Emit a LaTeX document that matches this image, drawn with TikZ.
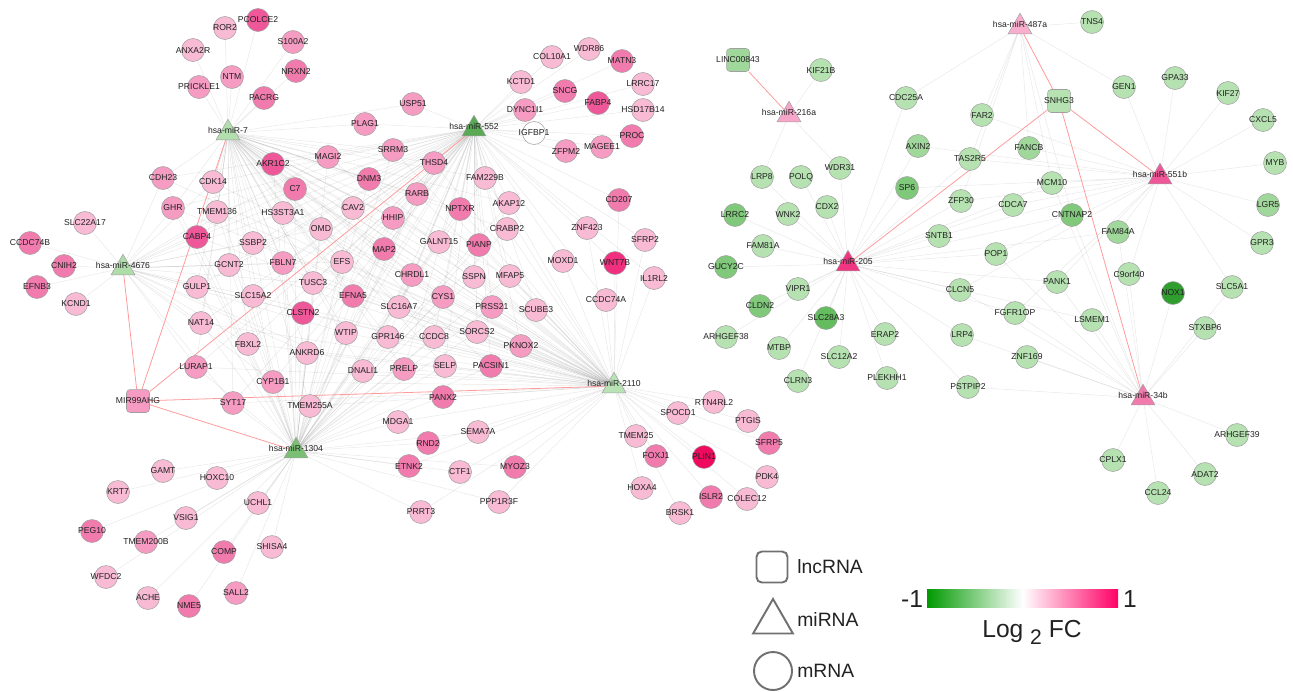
\documentclass[tikz,border=0pt]{standalone}
\usepackage{fontspec}
\setmainfont{Liberation Sans}
\usepackage{xcolor}
\usepackage{tikz}
\usetikzlibrary{shapes.geometric, backgrounds}
\definecolor{C_UP1}{HTML}{F9BAD4}
\definecolor{C_UP2}{HTML}{F69BC2}
\definecolor{C_UP3}{HTML}{F27BAE}
\definecolor{C_UP4}{HTML}{EE5898}
\definecolor{C_UP5}{HTML}{F0307F}
\definecolor{C_UP6}{HTML}{EE0A5F}
\definecolor{C_DN1}{HTML}{B6E2B1}
\definecolor{C_DN2}{HTML}{A0D79A}
\definecolor{C_DN3}{HTML}{80C97A}
\definecolor{C_DN4}{HTML}{64BC5E}
\definecolor{C_DN5}{HTML}{2F9E2F}
\definecolor{C_RIM} {HTML}{A0A0A0}
\definecolor{C_TXT} {HTML}{222222}
\definecolor{C_RED} {HTML}{FF9A9A}
\definecolor{C_KEY} {HTML}{707070}
\definecolor{C_LO}  {HTML}{009A00}
\definecolor{C_HI}  {HTML}{FF0066}
\tikzset{
  %% -- mRNA (circle) --
  NW/gene/.style={
    circle, draw=C_RIM, line width=0.3pt,
    minimum size=0.46cm, inner sep=0pt,
    font=\fontsize{4.9}{5.5}\selectfont
  },
  %% -- miRNA (triangle) --
  NW/mir/.style={
    regular polygon, regular polygon sides=3, draw=C_RIM, line width=0.3pt,
    minimum size=0.55cm, inner sep=0pt
  },
  %% -- lncRNA (rounded square) --
  NW/lnc/.style={
    rectangle, rounded corners=2pt, draw=C_RIM, line width=0.3pt,
    minimum size=0.46cm, inner sep=0pt,
    font=\fontsize{4.9}{5.5}\selectfont
  },
  %% -- text on a node --
  NW/lbl/.style={font=\fontsize{4.9}{5.5}\selectfont, inner sep=0pt},
  %% -- miRNA-mRNA link --
  NW/edge/.style={draw=gray, draw opacity=0.17, line width=0.3pt},
  %% -- lncRNA-miRNA link --
  NW/red/.style={draw=C_RED, line width=0.45pt},
  %% -- legend --
  NW/key/.style={draw=C_KEY, line width=1.1pt, inner sep=0pt},
  NW/keytxt/.style={font=\fontsize{11}{13}\selectfont, anchor=west, inner sep=0pt},
  NW/bar/.style={minimum width=1.91cm, minimum height=0.36cm, inner sep=0pt},
  NW/bartxt/.style={font=\fontsize{14}{16}\selectfont, inner sep=0pt},
}
\newcommand{\gnode}[4]{\node[NW/gene, fill=#4] (#1) at (#2,#3) {\makebox[0pt]{#1}};}
\newcommand{\mnode}[5]{\node[NW/mir, fill=#4,
  label={[NW/lbl, yshift=0.06cm]center:#5}] (#1) at (#2,#3+3) {};}
\newcommand{\lnode}[4]{\node[NW/lnc, fill=#4] (#1) at (#2,#3) {\makebox[0pt]{#1}};}

\begin{document}
\begin{tikzpicture}[x=0.02cm, y=-0.02cm, every node/.style={text=C_TXT}]
\useasboundingbox (0,0) rectangle (1293,691);

%% ── miRNAs ─────────────────────────────────────────────────────────────────
\mnode{mi7}{228}{130}{C_DN2!80!white}{hsa-miR-7}
\mnode{mi552}{474}{126}{C_DN4!90!black}{hsa-miR-552}
\mnode{mi4676}{123}{265}{C_DN2!85!white}{hsa-miR-4676}
\mnode{mi1304}{296}{448}{C_DN3!95!black}{hsa-miR-1304}
\mnode{mi2110}{614}{383}{C_DN1!95!white}{hsa-miR-2110}
\mnode{mi216a}{789}{112}{C_UP2!90!white}{hsa-miR-216a}
\mnode{mi487a}{1020}{24}{C_UP2!80!white}{hsa-miR-487a}
\mnode{mi551b}{1160}{174}{C_UP4}{hsa-miR-551b}
\mnode{mi205}{848}{261}{C_UP5!85!C_UP4}{hsa-miR-205}
\mnode{mi34b}{1143}{395}{C_UP3}{hsa-miR-34b}

%% ── lncRNAs ────────────────────────────────────────────────────────────────
\lnode{MIR99AHG}{138}{401}{C_UP2}
\lnode{LINC00843}{738}{60}{C_DN2}
\lnode{SNHG3}{1059}{101}{C_DN1}

%% ── up-regulated mRNAs (left network) ──────────────────────────────────────
\gnode{PCOLCE2}{258}{20}{C_UP4}   \gnode{ROR2}{225}{28}{C_UP1}
\gnode{S100A2}{293}{42}{C_UP2}    \gnode{ANXA2R}{193}{50}{C_UP1}
\gnode{NTM}{232}{77}{C_UP2}       \gnode{NRXN2}{296}{71}{C_UP3}
\gnode{PRICKLE1}{199}{87}{C_UP2}  \gnode{PACRG}{264}{98}{C_UP3}
\gnode{USP51}{413}{104}{C_UP2}    \gnode{PLAG1}{365}{124}{C_UP2}
\gnode{COL10A1}{552}{57}{C_UP1}   \gnode{WDR86}{589}{49}{C_UP1}
\gnode{MATN3}{622}{61}{C_UP3}     \gnode{KCTD1}{521}{82}{C_UP1}
\gnode{SNCG}{565}{91}{C_UP3}      \gnode{LRRC17}{643}{84}{C_UP1}
\gnode{DYNC1I1}{525}{110}{C_UP2}  \gnode{FABP4}{598}{103}{C_UP4}
\gnode{HSD17B14}{643}{110}{C_UP1} \gnode{IGFBP1}{534}{133}{white}
\gnode{PROC}{632}{136}{C_UP3}     \gnode{MAGEE1}{602}{147}{C_UP2}
\gnode{ZFPM2}{566}{151}{C_UP2}    \gnode{AKR1C2}{273}{164}{C_UP4}
\gnode{SRRM3}{393}{150}{C_UP2}    \gnode{MAGI2}{328}{157}{C_UP2}
\gnode{THSD4}{434}{163}{C_UP2}    \gnode{CDH23}{163}{178}{C_UP2}
\gnode{CDK14}{213}{182}{C_UP1}    \gnode{C7}{295}{189}{C_UP3}
\gnode{DNM3}{369}{179}{C_UP3}     \gnode{FAM229B}{485}{178}{C_UP1}
\gnode{CD207}{619}{200}{C_UP3}    \gnode{GHR}{173}{208}{C_UP2}
\gnode{TMEM136}{217}{212}{C_UP1}  \gnode{HS3ST3A1}{283}{213}{C_UP1}
\gnode{CAV2}{353}{208}{C_UP1}     \gnode{RARB}{417}{194}{C_UP2}
\gnode{HHIP}{393}{218}{C_UP2}     \gnode{NPTXR}{460}{209}{C_UP3}
\gnode{AKAP12}{509}{203}{C_UP1}   \gnode{CRABP2}{507}{229}{C_UP1}
\gnode{ZNF423}{587}{228}{C_UP1}   \gnode{SFRP2}{645}{240}{C_UP1}
\gnode{OMD}{321}{229}{C_UP1}      \gnode{SLC22A17}{85}{223}{C_UP1}
\gnode{CCDC74B}{30}{243}{C_UP3}   \gnode{CABP4}{197}{237}{C_UP4}
\gnode{SSBP2}{253}{243}{C_UP1}    \gnode{CNIH2}{64}{266}{C_UP3}
\gnode{GCNT2}{229}{265}{C_UP1}    \gnode{FBLN7}{283}{263}{C_UP2}
\gnode{EFS}{342}{262}{C_UP1}      \gnode{MAP2}{384}{249}{C_UP3}
\gnode{GALNT15}{439}{242}{C_UP1}  \gnode{PIANP}{479}{245}{C_UP3}
\gnode{WNT7B}{615}{263}{C_UP5}    \gnode{MOXD1}{563}{261}{C_UP1}
\gnode{IL1RL2}{654}{278}{C_UP1}   \gnode{EFNB3}{37}{287}{C_UP3}
\gnode{GULP1}{197}{287}{C_UP1}    \gnode{TUSC3}{313}{283}{C_UP1}
\gnode{CHRDL1}{412}{275}{C_UP2}   \gnode{SSPN}{474}{277}{C_UP1}
\gnode{MFAP5}{510}{276}{C_UP1}    \gnode{KCND1}{76}{304}{C_UP1}
\gnode{SLC15A2}{253}{296}{C_UP1}  \gnode{CLSTN2}{303}{313}{C_UP4}
\gnode{EFNA5}{353}{296}{C_UP3}    \gnode{SLC16A7}{399}{307}{C_UP1}
\gnode{CYS1}{443}{297}{C_UP2}     \gnode{PRSS21}{492}{307}{C_UP2}
\gnode{SCUBE3}{536}{310}{C_UP1}   \gnode{CCDC74A}{606}{300}{C_UP1}
\gnode{NAT14}{201}{323}{C_UP1}    \gnode{WTIP}{346}{333}{C_UP1}
\gnode{GPR146}{388}{337}{C_UP1}   \gnode{CCDC8}{434}{337}{C_UP1}
\gnode{SORCS2}{477}{332}{C_UP1}   \gnode{PKNOX2}{521}{346}{C_UP2}
\gnode{FBXL2}{248}{344}{C_UP1}    \gnode{ANKRD6}{307}{353}{C_UP1}
\gnode{LURAP1}{196}{367}{C_UP2}   \gnode{DNALI1}{363}{371}{C_UP1}
\gnode{PRELP}{404}{369}{C_UP2}    \gnode{SELP}{445}{366}{C_UP1}
\gnode{PACSIN1}{491}{366}{C_UP3}  \gnode{CYP1B1}{273}{382}{C_UP2}
\gnode{SYT17}{233}{403}{C_UP2}    \gnode{TMEM255A}{310}{406}{C_UP1}
\gnode{PANX2}{443}{397}{C_UP3}    \gnode{MDGA1}{398}{422}{C_UP1}
\gnode{SEMA7A}{478}{432}{C_UP1}   \gnode{RND2}{428}{443}{C_UP3}
\gnode{ETNK2}{409}{466}{C_UP3}    \gnode{CTF1}{460}{472}{C_UP1}
\gnode{MYOZ3}{515}{467}{C_UP3}    \gnode{PPP1R3F}{499}{502}{C_UP1}
\gnode{PRRT3}{421}{512}{C_UP1}    \gnode{GAMT}{163}{471}{C_UP1}
\gnode{HOXC10}{217}{478}{C_UP1}   \gnode{KRT7}{118}{492}{C_UP1}
\gnode{UCHL1}{258}{503}{C_UP1}    \gnode{VSIG1}{186}{518}{C_UP1}
\gnode{PEG10}{92}{531}{C_UP3}     \gnode{TMEM200B}{146}{542}{C_UP2}
\gnode{COMP}{224}{552}{C_UP3}     \gnode{SHISA4}{272}{547}{C_UP1}
\gnode{WFDC2}{106}{577}{C_UP1}    \gnode{ACHE}{148}{598}{C_UP1}
\gnode{NME5}{189}{606}{C_UP3}     \gnode{SALL2}{236}{593}{C_UP2}
\gnode{RTN4RL2}{714}{402}{C_UP1}  \gnode{SPOCD1}{678}{413}{C_UP1}
\gnode{PTGIS}{748}{421}{C_UP1}    \gnode{TMEM25}{636}{436}{C_UP1}
\gnode{SFRP5}{769}{443}{C_UP3}    \gnode{FOXJ1}{656}{456}{C_UP3}
\gnode{PLIN1}{704}{457}{C_UP6}    \gnode{HOXA4}{642}{488}{C_UP1}
\gnode{PDK4}{767}{477}{C_UP1}     \gnode{ISLR2}{711}{497}{C_UP3}
\gnode{COLEC12}{747}{499}{C_UP1}  \gnode{BRSK1}{680}{513}{C_UP1}

%% ── down-regulated mRNAs (right network) ───────────────────────────────────
\gnode{KIF21B}{821}{70}{C_DN1}    \gnode{CDC25A}{906}{98}{C_DN1}
\gnode{AXIN2}{918}{146}{C_DN2}    \gnode{TAS2R5}{970}{159}{C_DN1}
\gnode{LRP8}{762}{177}{C_DN1}     \gnode{POLQ}{801}{177}{C_DN1}
\gnode{WDR31}{840}{168}{C_DN1}    \gnode{SP6}{907}{188}{C_DN3}
\gnode{ZFP30}{961}{201}{C_DN1}    \gnode{LRRC2}{735}{215}{C_DN3}
\gnode{WNK2}{788}{214}{C_DN1}     \gnode{CDX2}{827}{207}{C_DN1}
\gnode{SNTB1}{939}{236}{C_DN1}    \gnode{TNS4}{1092}{22}{C_DN1}
\gnode{GPA33}{1175}{78}{C_DN1}    \gnode{GEN1}{1124}{87}{C_DN1}
\gnode{KIF27}{1228}{93}{C_DN1}    \gnode{FAR2}{982}{115}{C_DN1}
\gnode{CXCL5}{1263}{120}{C_DN1}   \gnode{FANCB}{1029}{148}{C_DN2}
\gnode{MYB}{1275}{163}{C_DN1}     \gnode{MCM10}{1052}{183}{C_DN1}
\gnode{CDCA7}{1013}{205}{C_DN1}   \gnode{LGR5}{1268}{205}{C_DN2}
\gnode{CNTNAP2}{1072}{215}{C_DN3} \gnode{FAM84A}{1118}{232}{C_DN2}
\gnode{GPR3}{1262}{243}{C_DN1}    \gnode{POP1}{996}{254}{C_DN1}
\gnode{C9orf40}{1129}{274}{C_DN1} \gnode{PANK1}{1057}{282}{C_DN1}
\gnode{NOX1}{1173}{293}{C_DN5}    \gnode{SLC5A1}{1232}{287}{C_DN1}
\gnode{CLCN5}{960}{290}{C_DN1}    \gnode{FGFR1OP}{1015}{313}{C_DN1}
\gnode{LSMEM1}{1092}{320}{C_DN1}  \gnode{STXBP6}{1205}{328}{C_DN1}
\gnode{LRP4}{962}{335}{C_DN1}     \gnode{ZNF169}{1027}{357}{C_DN1}
\gnode{PSTPIP2}{968}{387}{C_DN1}  \gnode{ARHGEF39}{1237}{435}{C_DN1}
\gnode{CPLX1}{1113}{460}{C_DN1}   \gnode{ADAT2}{1205}{474}{C_DN1}
\gnode{CCL24}{1158}{493}{C_DN1}   \gnode{FAM81A}{763}{246}{C_DN1}
\gnode{GUCY2C}{726}{267}{C_DN3}   \gnode{VIPR1}{798}{289}{C_DN1}
\gnode{CLDN2}{760}{306}{C_DN3}    \gnode{SLC28A3}{826}{318}{C_DN4}
\gnode{ARHGEF38}{726}{337}{C_DN1} \gnode{ERAP2}{885}{334}{C_DN1}
\gnode{MTBP}{779}{348}{C_DN1}     \gnode{SLC12A2}{839}{357}{C_DN1}
\gnode{CLRN3}{798}{381}{C_DN1}    \gnode{PLEKHH1}{887}{378}{C_DN1}

%% ── Links (behind the nodes) ───────────────────────────────────────────────
\begin{scope}[on background layer]
  \foreach \g in {PCOLCE2,ROR2,S100A2,ANXA2R,NTM,NRXN2,PRICKLE1,PACRG}
    \draw[NW/edge] (mi7) -- (\g);
  \foreach \g in {COL10A1,WDR86,MATN3,KCTD1,SNCG,LRRC17,DYNC1I1,FABP4,
    HSD17B14,IGFBP1,PROC,MAGEE1,ZFPM2}
    \draw[NW/edge] (mi552) -- (\g);
  \foreach \g in {CCDC74B,CNIH2,EFNB3,KCND1,SLC22A17}
    \draw[NW/edge] (mi4676) -- (\g);
  \foreach \g in {GAMT,HOXC10,KRT7,UCHL1,VSIG1,PEG10,TMEM200B,COMP,SHISA4,
    WFDC2,ACHE,NME5,SALL2}
    \draw[NW/edge] (mi1304) -- (\g);
  \foreach \g in {RTN4RL2,SPOCD1,PTGIS,TMEM25,SFRP5,FOXJ1,PLIN1,HOXA4,PDK4,
    ISLR2,COLEC12,BRSK1}
    \draw[NW/edge] (mi2110) -- (\g);
  \foreach \m in {mi1304,mi2110}
    \foreach \g in {ETNK2,CTF1,MYOZ3,PPP1R3F,PRRT3,RND2,SEMA7A,MDGA1,PANX2}
      \draw[NW/edge] (\m) -- (\g);
  \foreach \m in {mi552,mi2110}
    \foreach \g in {CD207,ZNF423,SFRP2,IL1RL2,WNT7B,CCDC74A,MOXD1,SCUBE3,PKNOX2}
      \draw[NW/edge] (\m) -- (\g);
  \foreach \m in {mi7,mi552}
    \foreach \g in {USP51,PLAG1}
      \draw[NW/edge] (\m) -- (\g);
  \foreach \m in {mi7,mi552,mi1304,mi2110}
    \foreach \g in {AKR1C2,SRRM3,MAGI2,THSD4,CDH23,CDK14,C7,DNM3,FAM229B,GHR,
      TMEM136,HS3ST3A1,CAV2,RARB,HHIP,NPTXR,AKAP12,CRABP2,OMD,CABP4,SSBP2,
      GCNT2,FBLN7,EFS,MAP2,GALNT15,PIANP,GULP1,TUSC3,CHRDL1,SSPN,MFAP5,
      SLC15A2,CLSTN2,EFNA5,SLC16A7,CYS1,PRSS21,NAT14,WTIP,GPR146,CCDC8,
      SORCS2,FBXL2,ANKRD6,LURAP1,DNALI1,PRELP,SELP,PACSIN1,CYP1B1,SYT17,
      TMEM255A}
      \draw[NW/edge] (\m) -- (\g);
  \foreach \g in {CDH23,GHR,CABP4,SSBP2,GCNT2,GULP1,NAT14,LURAP1,SLC15A2,
    FBXL2,CDK14,TMEM136,FBLN7,TUSC3,SYT17,CYP1B1,ANKRD6,HS3ST3A1,CLSTN2,
    WTIP,EFS,DNALI1,MAGI2,C7,OMD}
    \draw[NW/edge] (mi4676) -- (\g);
  %% right network
  \foreach \g in {KIF21B,LRP8,WDR31}
    \draw[NW/edge] (mi216a) -- (\g);
  \foreach \g in {TNS4,GEN1,CDC25A,FAR2,FANCB,MCM10,CNTNAP2,TAS2R5,ZFP30}
    \draw[NW/edge] (mi487a) -- (\g);
  \foreach \g in {GPA33,KIF27,CXCL5,MYB,LGR5,GPR3,SLC5A1,GEN1,C9orf40,FAM84A,
    PANK1,POP1,CDCA7,ZFP30,TAS2R5,FAR2,AXIN2,FANCB,MCM10,CLCN5,FGFR1OP,
    SNTB1,SP6}
    \draw[NW/edge] (mi551b) -- (\g);
  \foreach \g in {FAM81A,GUCY2C,VIPR1,SLC28A3,ERAP2,SLC12A2,PLEKHH1,CLRN3,
    MTBP,ARHGEF38,CLDN2,LRRC2,WNK2,CDX2,POLQ,LRP8,WDR31,SP6,AXIN2,CDC25A,
    TAS2R5,ZFP30,SNTB1,CLCN5,LRP4,PSTPIP2,CDCA7,MCM10,POP1,CNTNAP2,
    FGFR1OP,LSMEM1,PANK1,FAM84A}
    \draw[NW/edge] (mi205) -- (\g);
  \foreach \g in {CPLX1,CCL24,ADAT2,ARHGEF39,STXBP6,NOX1,C9orf40,LSMEM1,
    ZNF169,PSTPIP2,FGFR1OP,PANK1,FAM84A,POP1,CLCN5,LRP4,SLC5A1,MCM10,
    CNTNAP2}
    \draw[NW/edge] (mi34b) -- (\g);
  %% lncRNA sponges
  \foreach \m in {mi4676,mi7,mi552,mi2110,mi1304}
    \draw[NW/red] (MIR99AHG) -- (\m);
  \draw[NW/red] (LINC00843) -- (mi216a);
  \foreach \m in {mi487a,mi551b,mi205,mi34b}
    \draw[NW/red] (SNHG3) -- (\m);
\end{scope}

%% ── Shape legend ───────────────────────────────────────────────────────────
\node[NW/key, rectangle, rounded corners=3pt, minimum size=0.62cm] (kLnc) at (772,567) {};
\node[NW/keytxt] (tLnc) at (797,567) {lncRNA};
\node[NW/key, regular polygon, regular polygon sides=3, minimum size=0.92cm] (kMir) at (773,622) {};
\node[NW/keytxt] (tMir) at (797,619) {miRNA};
\node[NW/key, circle, minimum size=0.76cm] (kMr) at (773,671) {};
\node[NW/keytxt] (tMr) at (797,671) {mRNA};

%% ── Colour scale ───────────────────────────────────────────────────────────
\node[NW/bar, left color=C_LO, right color=white] (barLo) at (974.75,598) {};
\node[NW/bar, left color=white, right color=C_HI] (barHi) at (1070.25,598) {};
\node[NW/bartxt] (tLo) at (912,599) {-1};
\node[NW/bartxt] (tHi) at (1130,599) {1};
\node[NW/bartxt, anchor=base west] (tFC) at (982,637)
  {Log \raisebox{-4.5pt}{\fontsize{12}{12}\selectfont 2} FC};

\end{tikzpicture}
\end{document}
